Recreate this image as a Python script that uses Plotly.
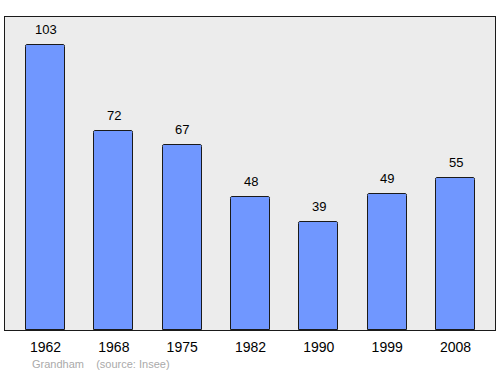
import plotly.graph_objects as go

years = ["1962", "1968", "1975", "1982", "1990", "1999", "2008"]
population = [103, 72, 67, 48, 39, 49, 55]
positions = list(range(len(years)))

font = "Liberation Sans, Arial, sans-serif"
fig = go.Figure()
fig.add_trace(go.Bar(
    x=positions, y=population, width=0.57,
    marker=dict(color="#7097ff", line=dict(color="#1a1a1a", width=1), cornerradius=2),
))
annotations = [dict(x=p, y=v, text=str(v), showarrow=False, yanchor="bottom", yshift=6,
                    font=dict(family=font, size=13, color="#000"))
               for p, v in zip(positions, population)]
annotations.append(dict(text="Grandham &nbsp;&nbsp; (source: Insee)", x=(30 - 5) / 490,
                        y=(374 - 44 - 364) / (374 - 17 - 44),
                        xref="paper", yref="paper", showarrow=False, xanchor="left", yanchor="middle",
                        font=dict(family=font, size=11, color="#aaaaaa")))
fig.update_layout(
    width=500, height=374,
    margin=dict(l=5, r=5, t=17, b=44),
    paper_bgcolor="white", plot_bgcolor="#ececec",
    showlegend=False, bargap=0,
    xaxis=dict(range=[-0.593, 6.578], tickvals=positions, ticktext=years,
               showgrid=False, zeroline=False, showline=True, linecolor="#1a1a1a",
               mirror=True, linewidth=1, ticks="", ticklabelstandoff=4,
               tickfont=dict(family=font, size=14, color="#000")),
    yaxis=dict(range=[0, 113.1], showgrid=False, zeroline=False, showticklabels=False,
               showline=True, linecolor="#1a1a1a", mirror=True, linewidth=1, ticks=""),
    annotations=annotations,
)
fig.write_html("out.html")
